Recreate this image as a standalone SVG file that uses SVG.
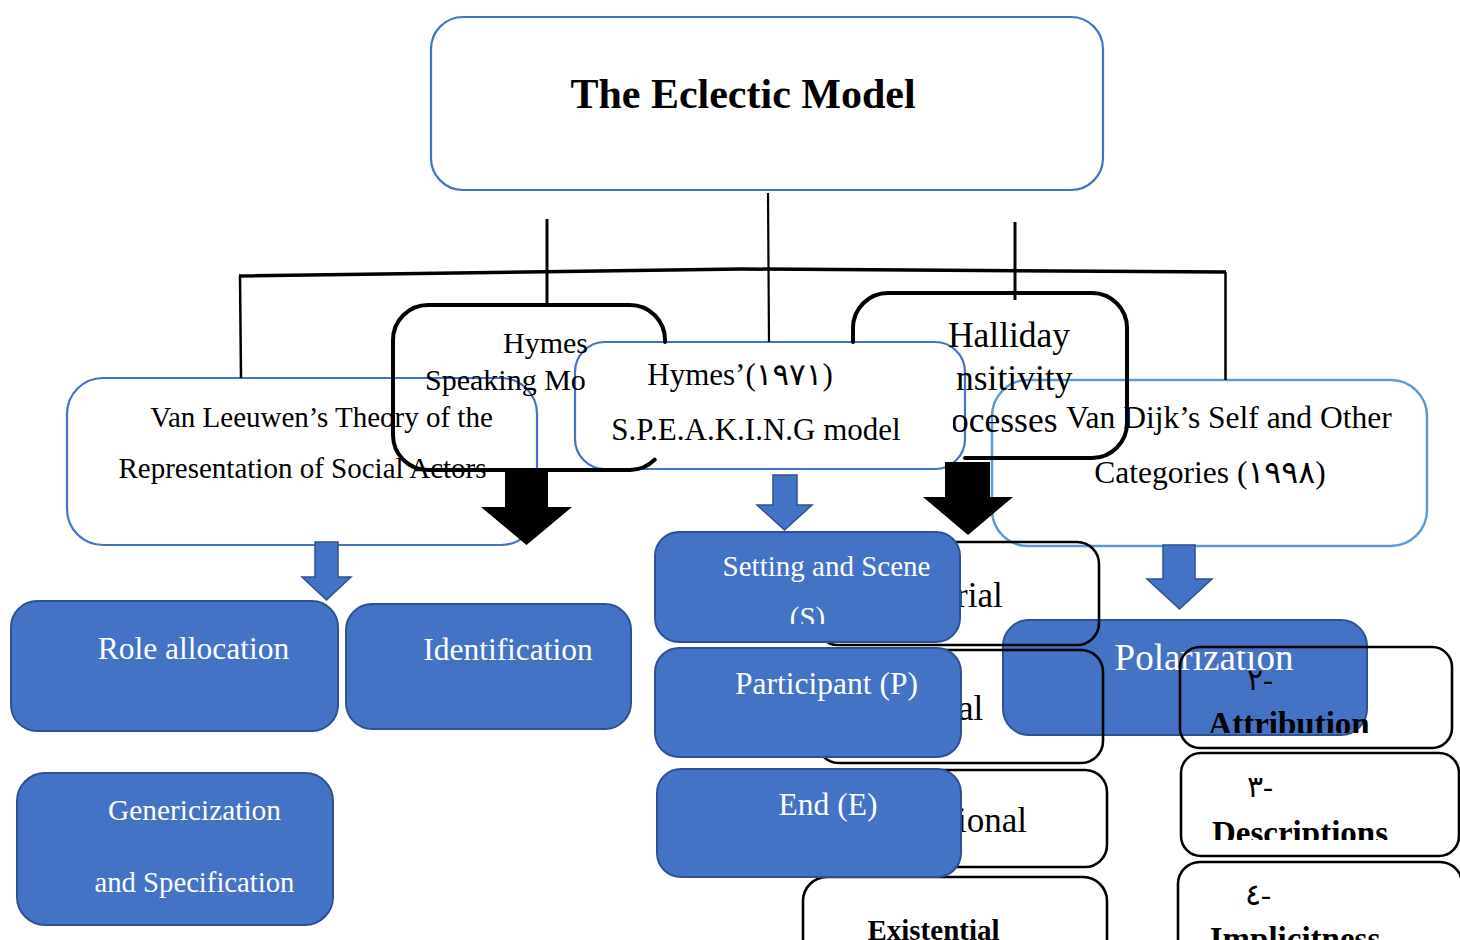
<svg xmlns="http://www.w3.org/2000/svg" width="1460" height="940" viewBox="0 0 1460 940">
<style>
text{font-family:"Liberation Serif","DejaVu Sans",serif;fill:#000}
.bx{fill:#fff;stroke:#4472C4;stroke-width:2.2}
.bx2{fill:#fff;stroke:#5B9BD5;stroke-width:2.5}
.blk{fill:none;stroke:#000;stroke-width:4;stroke-linecap:round}
.thin{fill:none;stroke:#000;stroke-width:2.6}
.blue{fill:#4472C4;stroke:#2F528F;stroke-width:2}
.w{fill:#fff}
.ln{stroke:#000;fill:none}
.barr{fill:#4472C4;stroke:#2F528F;stroke-width:1.5}
.karr{fill:#000}
.b{font-weight:bold}
</style>
<defs>
<clipPath id="cHymes"><rect x="0" y="0" width="589" height="940"/></clipPath>
<clipPath id="cHall"><rect x="953" y="0" width="507" height="940"/></clipPath>
<clipPath id="cS"><rect x="0" y="0" width="1460" height="624"/></clipPath>
<clipPath id="cPol"><rect x="0" y="0" width="1180" height="940"/><rect x="1180" y="651" width="280" height="289"/></clipPath>
<clipPath id="cAttr"><rect x="0" y="0" width="1460" height="733"/></clipPath>
<clipPath id="cDesc"><rect x="0" y="0" width="1460" height="840"/></clipPath>
</defs>

<g id="title">
<rect class="bx" x="431" y="17" width="672" height="173" rx="32"/>
<text x="743" y="108" font-size="42" class="b" text-anchor="middle">The Eclectic Model</text>
</g>

<g id="vanleeuwen">
<rect class="bx" x="67" y="378" width="470" height="167" rx="36"/>
<text x="321.5" y="427" font-size="29" text-anchor="middle">Van Leeuwen’s Theory of the</text>
<text x="302.5" y="478" font-size="29" text-anchor="middle">Representation of Social Actors</text>
</g>

<g id="vandijk">
<rect class="bx2" x="992" y="380" width="435" height="166" rx="36"/>
<text x="1229" y="428" font-size="31.5" text-anchor="middle">Van Dijk’s Self and Other</text>
<text x="1210" y="483" font-size="31.5" text-anchor="middle">Categories (١٩٩٨)</text>
</g>

<g id="hymes-model">
<rect class="bx" x="575" y="342" width="390" height="127" rx="30"/>
<text x="740" y="385" font-size="31" text-anchor="middle">Hymes’(١٩٧١)</text>
<text x="756" y="440" font-size="31" text-anchor="middle">S.P.E.A.K.I.N.G model</text>
</g>

<g id="hymes-speaking">
<path class="blk" d="M665 342 L665 340 A35 35 0 0 0 630 305 L428 305 A35 35 0 0 0 393 340 L393 435 A35 35 0 0 0 428 470 L630 470 A35 35 0 0 0 654.7 459.7"/>
<g clip-path="url(#cHymes)">
<text x="503" y="353" font-size="30">Hymes</text>
<text x="425" y="390" font-size="30">Speaking Mo</text>
</g>
</g>

<g id="halliday">
<path class="blk" d="M853 342 L853 328 A35 35 0 0 1 888 293 L1092 293 A35 35 0 0 1 1127 328 L1127 423 A35 35 0 0 1 1092 458 L965 458"/>
<text x="1009" y="347" font-size="35.5" text-anchor="middle">Halliday</text>
<g clip-path="url(#cHall)">
<text x="956" y="390" font-size="35.5">nsitivity</text>
<text x="951" y="432" font-size="35.5">ocesses</text>
</g>
</g>

<g id="polarization">
<rect class="blue" x="1003" y="620" width="364" height="115" rx="26"/>
<text x="1204" y="670" font-size="37" class="w" text-anchor="middle" clip-path="url(#cPol)">Polarization</text>
</g>

<g id="attribution">
<rect class="thin" x="1180" y="647" width="272" height="101" rx="20"/>
<text x="1260" y="690" font-size="30" text-anchor="middle">٢-</text>
<text x="1289" y="735" font-size="33" class="b" text-anchor="middle" clip-path="url(#cAttr)">Attribution</text>
</g>

<g id="descriptions">
<rect class="thin" x="1181" y="753" width="278" height="103" rx="20"/>
<text x="1260" y="797" font-size="30" text-anchor="middle">٣-</text>
<text x="1300" y="844" font-size="33" class="b" text-anchor="middle" clip-path="url(#cDesc)">Descriptions</text>
</g>

<g id="implicitness">
<rect class="thin" x="1178" y="862" width="284" height="110" rx="22"/>
<text x="1258" y="905" font-size="30" text-anchor="middle">٤-</text>
<text x="1295" y="950" font-size="33" class="b" text-anchor="middle">Implicitness</text>
</g>

<g id="material">
<rect class="thin" x="816" y="542" width="283" height="103" rx="22"/>
<text x="956" y="607" font-size="35">rial</text>
</g>

<g id="mental">
<rect class="thin" x="817" y="650" width="286" height="113" rx="22"/>
<text x="958" y="720" font-size="35">al</text>
</g>

<g id="relational">
<rect class="thin" x="815" y="770" width="292" height="97" rx="22"/>
<text x="957" y="832" font-size="35">ional</text>
</g>

<g id="existential">
<rect class="thin" x="803" y="877" width="304" height="100" rx="24"/>
<text x="933.5" y="940" font-size="29" class="b" text-anchor="middle">Existential</text>
</g>

<g id="setting">
<rect class="blue" x="655" y="532" width="305" height="110" rx="24"/>
<text x="826.5" y="576" font-size="29" class="w" text-anchor="middle">Setting and Scene</text>
<text x="807.5" y="627" font-size="29" class="w" text-anchor="middle" clip-path="url(#cS)">(S)</text>
</g>

<g id="participant">
<rect class="blue" x="655" y="648" width="306" height="109" rx="24"/>
<text x="826.5" y="694" font-size="31.5" class="w" text-anchor="middle">Participant (P)</text>
</g>

<g id="end">
<rect class="blue" x="657" y="769" width="304" height="108" rx="24"/>
<text x="828" y="815" font-size="31.5" class="w" text-anchor="middle">End (E)</text>
</g>

<g id="role-allocation">
<rect class="blue" x="11" y="601" width="327" height="130" rx="26"/>
<text x="193.5" y="659" font-size="31.5" class="w" text-anchor="middle">Role allocation</text>
</g>

<g id="identification">
<rect class="blue" x="346" y="604" width="285" height="125" rx="26"/>
<text x="508" y="660" font-size="31.5" class="w" text-anchor="middle">Identification</text>
</g>

<g id="genericization">
<rect class="blue" x="17" y="773" width="316" height="152" rx="28"/>
<text x="194.5" y="820" font-size="29.4" class="w" text-anchor="middle">Genericization</text>
<text x="194.5" y="892" font-size="28.7" class="w" text-anchor="middle">and Specification</text>
</g>

<g id="connectors">
<polyline class="ln" stroke-width="3.5" points="239,276 742,269 1226,272"/>
<line class="ln" stroke-width="2.5" x1="240" y1="276" x2="241" y2="378"/>
<line class="ln" stroke-width="2.5" x1="1225.5" y1="272" x2="1225.5" y2="380"/>
<line class="ln" stroke-width="3" x1="547" y1="219" x2="547" y2="305"/>
<line class="ln" stroke-width="2.2" x1="768" y1="193" x2="769" y2="342"/>
<line class="ln" stroke-width="3" x1="1015" y1="222" x2="1015" y2="300"/>
<polygon class="barr" points="315,542 338,542 338,577 351,577 326.5,600 302,577 315,577"/>
<polygon class="barr" points="773,475 797,475 797,505 812,505 784.5,530 757,505 773,505"/>
<polygon class="barr" points="1163,545 1195,545 1195,579 1212,579 1179.5,609 1147,579 1163,579"/>
<polygon class="karr" points="505,470 548,470 548,507 572,507 526.5,545 481,507 505,507"/>
<polygon class="karr" points="945,462 990,462 990,497 1013,497 968,535 923,497 945,497"/>
</g>
</svg>
